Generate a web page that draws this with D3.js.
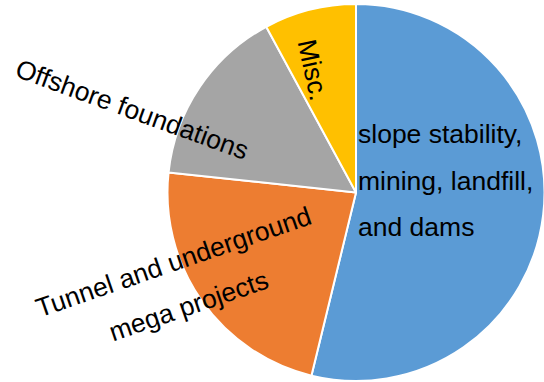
<!DOCTYPE html>
<html>
<head>
<meta charset="utf-8">
<script src="https://cdn.jsdelivr.net/npm/d3@7"></script>
<style>
  html, body { margin: 0; padding: 0; background: #fff; }
  svg { display: block; }
  text { font-family: "Liberation Sans", Arial, sans-serif; fill: #000; }
</style>
</head>
<body>
<svg id="chart" width="544" height="382"></svg>
<script>
// Share of applications (percent), clockwise from 12 o'clock
const categories = [
  "slope stability, mining, landfill, and dams",
  "Tunnel and underground mega projects",
  "Offshore foundations",
  "Misc."
];
const shares = [53.8, 22.9, 15.4, 7.9];
const colors = ["#5B9BD5", "#ED7D31", "#A5A5A5", "#FFC000"];

// Label text split into lines
const labelLines = [
  ["slope stability,", "mining, landfill,", "and dams"],
  ["Tunnel and underground", "mega projects"],
  ["Offshore foundations"],
  ["Misc."]
];

const W = 544, H = 382;
const cx = 356, cy = 192.5, R = 188.5;
const fontSize = 26.5, lineGap = 46.5;

const svg = d3.select("#chart");
const g = svg.append("g").attr("transform", `translate(${cx},${cy})`);

const data = categories.map((c, i) => ({ name: c, value: shares[i], color: colors[i], lines: labelLines[i] }));

const pie = d3.pie().value(d => d.value).sort(null);
const arc = d3.arc().innerRadius(0).outerRadius(R);

g.selectAll("path.slice")
  .data(pie(data))
  .join("path")
  .attr("class", "slice")
  .attr("d", arc)
  .attr("fill", d => d.data.color)
  .attr("stroke", "#fff")
  .attr("stroke-width", 2)
  .attr("stroke-linejoin", "round");

// Label placement (page coordinates): anchor point, rotation, alignment
const labelLayout = [
  { x: 358, y: 143, rot: 0, anchor: "start" },
  { x: 176.5, y: 270.5, rot: -19, anchor: "middle" },
  { x: 129, y: 118, rot: 20, anchor: "middle" },
  { x: 304, y: 72, rot: 78, anchor: "middle" }
];

const labels = svg.append("g").attr("class", "labels");
data.forEach((d, i) => {
  const L = labelLayout[i];
  const t = labels.append("text")
    .attr("transform", `translate(${L.x},${L.y}) rotate(${L.rot})`)
    .attr("text-anchor", L.anchor)
    .attr("font-size", fontSize);
  d.lines.forEach((line, j) => {
    t.append("tspan").attr("x", 0).attr("y", j * lineGap).text(line);
  });
});
</script>
</body>
</html>
